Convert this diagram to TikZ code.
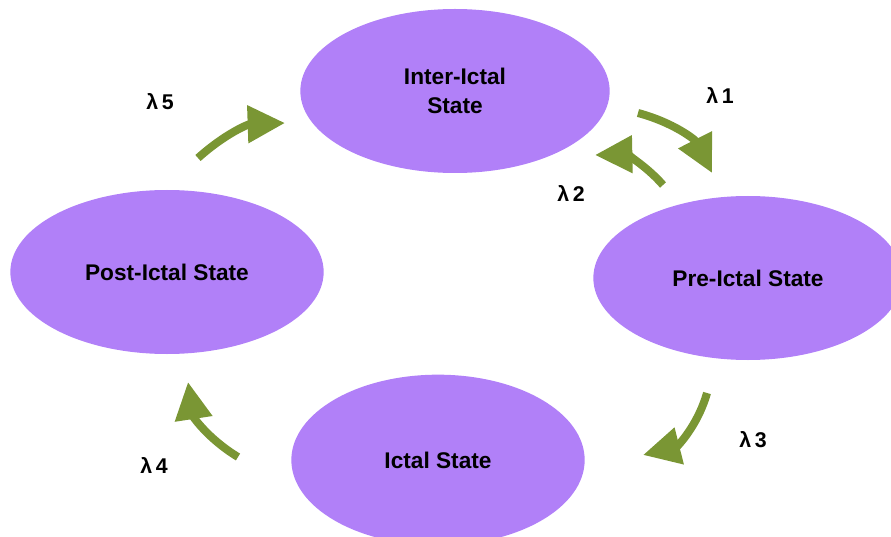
\documentclass[tikz,border=0pt]{standalone}
\usepackage{fontspec}
\setmainfont{Liberation Sans}
\usetikzlibrary{arrows.meta,shapes.geometric}
\definecolor{statefill}{RGB}{177,128,248}
\definecolor{arcgreen}{RGB}{122,150,52}
\tikzset{
  >={Triangle[length=28pt,width=27pt]},
  state/.style={ellipse,fill=statefill,inner sep=0pt,minimum height=123pt,
    align=center,font=\fontsize{17}{21.5}\selectfont\bfseries},
  trans/.style={->,arcgreen,line width=6pt},
  rate/.style={font=\fontsize{16}{18}\selectfont\bfseries}
}

\begin{document}
\begin{tikzpicture}[x=0.75pt,y=0.75pt]
      \useasboundingbox (0,0) rectangle (891,536);
      % states
      \node[state,minimum width=232pt] (inter) at (455,445) {Inter-Ictal\\State};
      \node[state,minimum width=232pt] (pre) at (748,258) {Pre-Ictal State};
      \node[state,minimum width=220pt,minimum height=128pt] (ictal) at (438,76) {Ictal State};
      \node[state,minimum width=235pt] (post) at (167,264) {Post-Ictal State};
      % free ends of the transitions
      \coordinate (t1) at (638,423); \coordinate (h1) at (712,363);
      \coordinate (t2) at (663,351); \coordinate (h2) at (595,381);
      \coordinate (t3) at (707,143); \coordinate (h3) at (643,81);
      \coordinate (t4) at (238,79);  \coordinate (h4) at (188,154);
      \coordinate (t5) at (198,378); \coordinate (h5) at (285,413);
      \foreach \i/\b in {1/24,2/-25,3/30,4/25,5/20}
      \draw[trans] (t\i) to[bend left=\b] (h\i);
      % rates
      \node[rate] (l1) at (720,441) {λ\,1};
      \node[rate] (l2) at (571,343) {λ\,2};
      \node[rate] (l3) at (753,96) {λ\,3};
      \node[rate] (l4) at (154,71) {λ\,4};
      \node[rate] (l5) at (160,434) {λ\,5};
\end{tikzpicture}
\end{document}
